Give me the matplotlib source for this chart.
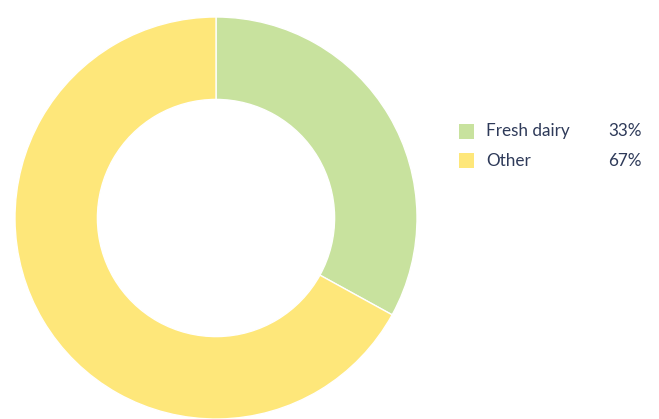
import matplotlib
matplotlib.use("Agg")
import matplotlib.pyplot as plt
from matplotlib.patches import Rectangle

categories = ["Fresh dairy", "Other"]
values = [33, 67]
colors = ["#c8e29e", "#fee77a"]
text_color = "#2e3a59"

W, H = 659, 419
fig = plt.figure(figsize=(W / 100, H / 100), dpi=100)
fig.patch.set_facecolor("white")

# donut axes: center ~ (216, 218), radius ~200
cx, cy, r = 216, 218, 201
ax = fig.add_axes([(cx - r) / W, (H - cy - r) / H, 2 * r / W, 2 * r / H])
ax.pie(values, colors=colors, startangle=90, counterclock=False,
       radius=1.0, wedgeprops=dict(width=0.41, edgecolor="white", linewidth=1))
ax.set_xlim(-1, 1)
ax.set_ylim(-1, 1)
ax.set_aspect("equal")
ax.axis("off")

# legend
ys = [131, 161]
for lab, val, col, y in zip(categories, values, colors, ys):
    fig.patches.append(Rectangle(((459) / W, (H - y - 7.5) / H), 15 / W, 15 / H,
                                 transform=fig.transFigure, facecolor=col,
                                 edgecolor="none"))
    fig.text(486 / W, (H - y) / H, lab, ha="left", va="center",
             fontsize=12.3, color=text_color, family="Lato")
    fig.text(642 / W, (H - y) / H, f"{val}%", ha="right", va="center",
             fontsize=12.3, color=text_color, family="Lato")

fig.savefig("out.png", dpi=100, facecolor="white")
